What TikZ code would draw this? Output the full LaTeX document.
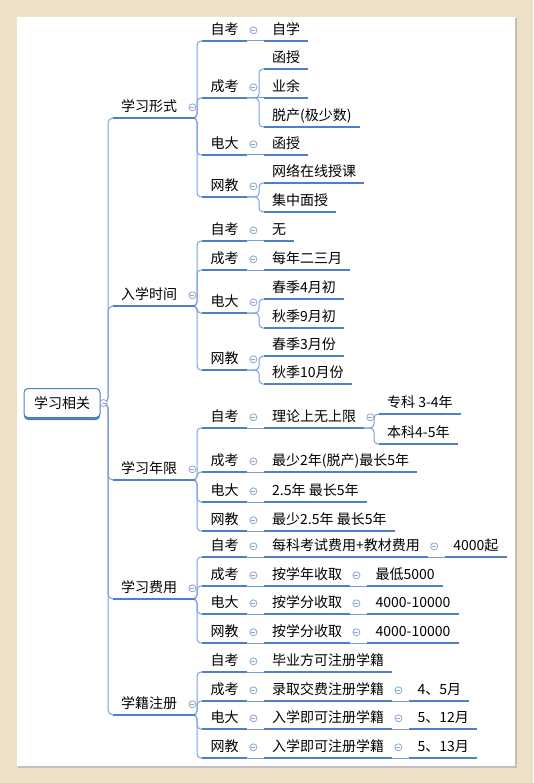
\documentclass[tikz,border=0pt]{standalone}
\usepackage{fontspec}
\usepackage{tikz}
\usetikzlibrary{calc, positioning, backgrounds, shadows}
\newfontfamily\cjk{Noto Sans CJK SC}
\definecolor{frameBg}{RGB}{238, 225, 201}
\definecolor{ulBlue}{RGB}{76, 128, 202}
\definecolor{linkBlue}{RGB}{122, 160, 220}
\definecolor{foldGray}{RGB}{140, 166, 208}

\begin{document}
\begin{tikzpicture}[x=1pt, y=-1pt, font=\cjk\fontsize{14}{16}\selectfont,
  uline/.style={draw=ulBlue, line width=1.8pt},
  topic/.style={anchor=south west, inner xsep=8pt, inner ysep=4pt,
    text height=11pt, text depth=2pt,
    append after command={(\tikzlastnode.south west) edge[uline] (\tikzlastnode.south east)}},
  lvlone/.style={topic, text width=66pt, align=left},
  lvltwo/.style={topic, minimum width=45pt},
  rootbox/.style={draw=ulBlue, line width=1pt, rounded corners=4pt, fill=white,
    minimum width=76pt, minimum height=29pt,
    drop shadow={shadow xshift=0pt, shadow yshift=-2.5pt, fill=ulBlue, opacity=1}},
  foldmark/.style={circle, draw=foldGray, fill=white, line width=0.8pt,
    minimum size=7pt, inner sep=0pt,
    path picture={\draw[foldGray, line width=0.8pt]
      ([xshift=-2pt]path picture bounding box.center) -- ([xshift=2pt]path picture bounding box.center);}},
  link/.style={draw=linkBlue, line width=1pt},
  elbow/.style={link, rounded corners=4pt,
    to path={($(\tikztostart)+(-6pt,0)$) -| ($(\tikztotarget)+(-5pt,0)$) -- (\tikztotarget)}},
  trunk/.style={link, rounded corners=5pt,
    to path={(\tikztostart) -| ($(\tikztotarget)+(-5pt,0)$) -- (\tikztotarget)}}]
  \useasboundingbox (0,0) rectangle (533,783);

  % Root and the five main topics
  \node[rootbox] (gx) at (62,403) {学习相关};
  \node[lvlone] (xs) at (113,118) {学习形式};
  \node[lvlone] (rx) at (113,306) {入学时间};
  \node[lvlone] (nx) at (113,480) {学习年限};
  \node[lvlone] (fy) at (113,599) {学习费用};
  \node[lvlone] (zc) at (113,715) {学籍注册};

  % Same four kinds of school under every topic
  \foreach \p/\a/\b/\c/\d in {xs/41/98/155/197, rx/241/270/313/370,
      nx/428/472/502/531, fy/557/586/614/643, zc/672/701/729/758}{
    \node[lvltwo] (\p-zk) at (202,\a) {自考};
    \node[lvltwo] (\p-ck) at (202,\b) {成考};
    \node[lvltwo] (\p-dd) at (202,\c) {电大};
    \node[lvltwo] (\p-wj) at (202,\d) {网教};
  }

  % Details
  \node[topic] (xs-zk-1) at (264,41) {自学};
  \node[topic] (xs-ck-1) at (264,69) {函授};
  \node[topic] (xs-ck-2) at (264,98) {业余};
  \node[topic] (xs-ck-3) at (264,127) {脱产(极少数)};
  \node[topic] (xs-dd-1) at (264,155) {函授};
  \node[topic] (xs-wj-1) at (264,183) {网络在线授课};
  \node[topic] (xs-wj-2) at (264,212) {集中面授};

  \node[topic] (rx-zk-1) at (264,241) {无};
  \node[topic] (rx-ck-1) at (264,270) {每年二三月};
  \node[topic] (rx-dd-1) at (264,299) {春季4月初};
  \node[topic] (rx-dd-2) at (264,328) {秋季9月初};
  \node[topic] (rx-wj-1) at (264,356) {春季3月份};
  \node[topic] (rx-wj-2) at (264,384) {秋季10月份};

  \node[topic] (nx-zk-1) at (264,428) {理论上无上限};
  \node[topic] (nx-ck-1) at (264,472) {最少2年(脱产)最长5年};
  \node[topic] (nx-dd-1) at (264,502) {2.5年 最长5年};
  \node[topic] (nx-wj-1) at (264,531) {最少2.5年 最长5年};
  \node[topic] (nx-zk-1-a) at (379,414) {专科 3-4年};
  \node[topic] (nx-zk-1-b) at (379,444) {本科4-5年};

  \node[topic] (fy-zk-1) at (264,557) {每科考试费用+教材费用};
  \node[topic] (fy-ck-1) at (264,586) {按学年收取};
  \node[topic] (fy-dd-1) at (264,614) {按学分收取};
  \node[topic] (fy-wj-1) at (264,643) {按学分收取};
  \node[topic, right=17pt of fy-zk-1.south east, anchor=south west] (fy-zk-2) {4000起};
  \node[topic, right=17pt of fy-ck-1.south east, anchor=south west] (fy-ck-2) {最低5000};
  \node[topic, right=17pt of fy-dd-1.south east, anchor=south west] (fy-dd-2) {4000-10000};
  \node[topic, right=17pt of fy-wj-1.south east, anchor=south west] (fy-wj-2) {4000-10000};

  \node[topic] (zc-zk-1) at (264,672) {毕业方可注册学籍};
  \node[topic] (zc-ck-1) at (264,701) {录取交费注册学籍};
  \node[topic] (zc-dd-1) at (264,729) {入学即可注册学籍};
  \node[topic] (zc-wj-1) at (264,758) {入学即可注册学籍};
  \node[topic, right=17pt of zc-ck-1.south east, anchor=south west] (zc-ck-2) {4、5月};
  \node[topic, right=17pt of zc-dd-1.south east, anchor=south west] (zc-dd-2) {5、12月};
  \node[topic, right=17pt of zc-wj-1.south east, anchor=south west] (zc-wj-2) {5、13月};

  % Fold markers
  \node[foldmark] (gx-f) at ($(gx.east)+(3pt,0)$) {};
  \foreach \p in {xs,rx,nx,fy,zc}{
    \node[foldmark] (\p-f) at ($(\p.east)+(-3pt,0)$) {};
    \foreach \k in {zk,ck,dd,wj}
      \node[foldmark] (\p-\k-f) at ($(\p-\k.east)+(6pt,0)$) {};
  }
  \foreach \n in {nx-zk-1,fy-zk-1,fy-ck-1,fy-dd-1,fy-wj-1,zc-ck-1,zc-dd-1,zc-wj-1}
    \node[foldmark] (\n-f) at ($(\n.east)+(6pt,0)$) {};

  \begin{scope}[on background layer]
    % Paper frame
    \fill[frameBg] (0,0) rectangle (533,783);
    \fill[black!25] (18,18) rectangle (517,768);
    \fill[white] (17,17) rectangle (515,766);

    % Connectors
    \foreach \p in {xs,rx,nx,fy,zc}{
      \draw[trunk] (gx.east) to (\p.south west);
      \foreach \k in {zk,ck,dd,wj}
        \draw[elbow] (\p.south east) to (\p-\k.south west);
    }
    \foreach \a/\b in {xs-ck/xs-ck-1, xs-ck/xs-ck-3, xs-wj/xs-wj-1, xs-wj/xs-wj-2,
        rx-dd/rx-dd-1, rx-dd/rx-dd-2, rx-wj/rx-wj-1, rx-wj/rx-wj-2,
        nx-zk-1/nx-zk-1-a, nx-zk-1/nx-zk-1-b}
      \draw[elbow] (\a.south east) to (\b.south west);
    \foreach \a/\b in {xs-zk/xs-zk-1, xs-ck/xs-ck-2, xs-dd/xs-dd-1,
        rx-zk/rx-zk-1, rx-ck/rx-ck-1,
        nx-zk/nx-zk-1, nx-ck/nx-ck-1, nx-dd/nx-dd-1, nx-wj/nx-wj-1,
        fy-zk/fy-zk-1, fy-ck/fy-ck-1, fy-dd/fy-dd-1, fy-wj/fy-wj-1,
        fy-zk-1/fy-zk-2, fy-ck-1/fy-ck-2, fy-dd-1/fy-dd-2, fy-wj-1/fy-wj-2,
        zc-zk/zc-zk-1, zc-ck/zc-ck-1, zc-dd/zc-dd-1, zc-wj/zc-wj-1,
        zc-ck-1/zc-ck-2, zc-dd-1/zc-dd-2, zc-wj-1/zc-wj-2}
      \draw[link] (\a.south east) -- (\b.south west);
  \end{scope}
\end{tikzpicture}
\end{document}
